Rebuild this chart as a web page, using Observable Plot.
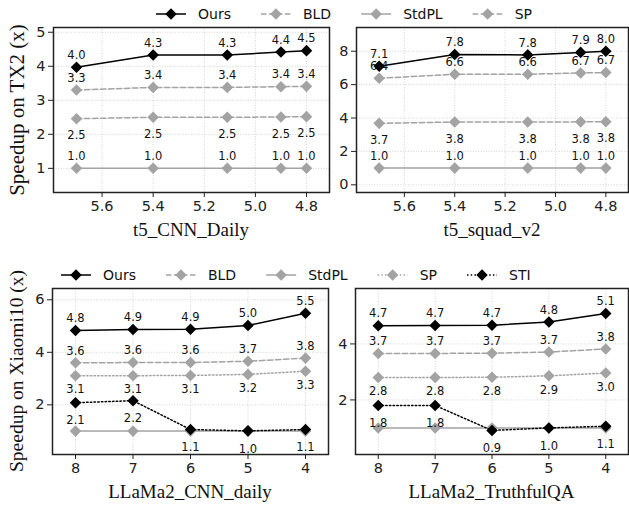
<!DOCTYPE html>
<html>
<head>
<meta charset="utf-8">
<script src="https://cdn.jsdelivr.net/npm/d3@7"></script>
<script src="https://cdn.jsdelivr.net/npm/@observablehq/plot@0.6"></script>
<style>
  body { margin: 0; background: #fff; }
  #root { position: relative; width: 629px; height: 508px; overflow: hidden; font-family: "DejaVu Sans", sans-serif; }
  .abs { position: absolute; }
  .ytitle { position: absolute; font-family: "Liberation Serif", serif; font-size: 19.5px; color: #111; white-space: nowrap; transform: translate(-50%, -50%) rotate(-90deg); }
  .xtitle { position: absolute; font-family: "Liberation Serif", serif; font-size: 19px; color: #111; white-space: nowrap; transform: translate(-50%, -50%); }
</style>
</head>
<body>
<div id="root"></div>
<script>
// ---------- data ----------
const topX = [5.7, 5.4, 5.11, 4.9, 4.8];
const botX = [8, 7, 6, 5, 4];
const topXTicks = [5.6, 5.4, 5.2, 5.0, 4.8];
const botXTicks = [8, 7, 6, 5, 4];

// TX2 - t5_CNN_Daily
const cnnOurs  = [3.97, 4.33, 4.33, 4.42, 4.46];
const cnnBLD   = [3.30, 3.38, 3.38, 3.40, 3.41];
const cnnStdPL = [1.0, 1.0, 1.0, 1.0, 1.0];
const cnnSP    = [2.46, 2.50, 2.50, 2.51, 2.52];
const cnnYTicks = [1, 2, 3, 4, 5];

// TX2 - t5_squad_v2
const squadOurs  = [7.10, 7.80, 7.78, 7.93, 8.00];
const squadBLD   = [6.38, 6.62, 6.62, 6.70, 6.72];
const squadStdPL = [1.0, 1.0, 1.0, 1.0, 1.0];
const squadSP    = [3.68, 3.76, 3.76, 3.77, 3.78];
const squadYTicks = [0, 2, 4, 6, 8];

// Xiaomi10 - LLaMa2_CNN_daily
const llCnnOurs  = [4.83, 4.87, 4.88, 5.02, 5.49];
const llCnnBLD   = [3.60, 3.61, 3.61, 3.66, 3.78];
const llCnnStdPL = [1.0, 1.0, 1.0, 1.0, 1.0];
const llCnnSP    = [3.11, 3.11, 3.12, 3.16, 3.28];
const llCnnSTI   = [2.08, 2.16, 1.06, 1.01, 1.06];
const llCnnYTicks = [2, 4, 6];

// Xiaomi10 - LLaMa2_TruthfulQA
const tqaOurs  = [4.65, 4.66, 4.67, 4.78, 5.09];
const tqaBLD   = [3.66, 3.66, 3.67, 3.71, 3.82];
const tqaStdPL = [1.0, 1.0, 1.0, 1.0, 1.0];
const tqaSP    = [2.80, 2.80, 2.81, 2.86, 2.96];
const tqaSTI   = [1.80, 1.80, 0.91, 1.00, 1.06];
const tqaYTicks = [2, 4];

const topLegend = ["Ours", "BLD", "StdPL", "SP"];
const botLegend = ["Ours", "BLD", "StdPL", "SP", "STI"];

// ---------- styles ----------
const GRAY = "#a3a3a3";
const DASH = "5.5,2.5";
const DOT = "1.5,2.2";
const topStyle = {
  Ours:  {stroke: "#000", dash: null, fill: "#000", dy: -12, label: true},
  BLD:   {stroke: GRAY, dash: DASH, fill: GRAY, dy: -12, label: true},
  StdPL: {stroke: GRAY, dash: null, fill: GRAY, dy: -12, label: true},
  SP:    {stroke: GRAY, dash: DASH, fill: GRAY, dy: 17, label: true}
};
const botStyle = {
  Ours:  {stroke: "#000", dash: null, fill: "#000", dy: -12, label: true},
  BLD:   {stroke: GRAY, dash: DASH, fill: GRAY, dy: -12, label: true},
  StdPL: {stroke: GRAY, dash: null, fill: GRAY, dy: -12, label: false},
  SP:    {stroke: GRAY, dash: DOT, fill: GRAY, dy: 14, label: true},
  STI:   {stroke: "#000", dash: DOT, fill: "#000", dy: 18, label: true}
};

const panels = [
  {left: 0, top: 0, width: 335, height: 245, mL: 53, mR: 6, mT: 27, mB: 53,
   xs: topX, xDomain: [5.79, 4.71], xTicks: topXTicks, xFmt: d3.format(".1f"),
   yDomain: [0.29, 5.14], yTicks: cnnYTicks, style: topStyle,
   series: {Ours: cnnOurs, BLD: cnnBLD, StdPL: cnnStdPL, SP: cnnSP},
   xTitle: "t5_CNN_Daily", yTitle: "Speedup on TX2 (x)", yTitleSize: 21},
  {left: 335, top: 0, width: 294, height: 245, mL: 21, mR: 1, mT: 27, mB: 53,
   xs: topX, xDomain: [5.79, 4.71], xTicks: topXTicks, xFmt: d3.format(".1f"),
   yDomain: [-0.46, 9.42], yTicks: squadYTicks, style: topStyle,
   series: {Ours: squadOurs, BLD: squadBLD, StdPL: squadStdPL, SP: squadSP},
   xTitle: "t5_squad_v2"},
  {left: 0, top: 250, width: 335, height: 258, mL: 52, mR: 7, mT: 38, mB: 54,
   xs: botX, xDomain: [8.4, 3.6], xTicks: botXTicks, xFmt: d3.format("d"),
   yDomain: [0.11, 6.43], yTicks: llCnnYTicks, style: botStyle,
   series: {Ours: llCnnOurs, BLD: llCnnBLD, StdPL: llCnnStdPL, SP: llCnnSP, STI: llCnnSTI},
   xTitle: "LLaMa2_CNN_daily", yTitle: "Speedup on Xiaomi10 (x)", yTitleSize: 19.5},
  {left: 335, top: 250, width: 294, height: 258, mL: 20, mR: 1, mT: 38, mB: 54,
   xs: botX, xDomain: [8.4, 3.6], xTicks: botXTicks, xFmt: d3.format("d"),
   yDomain: [0.05, 5.98], yTicks: tqaYTicks, style: botStyle,
   series: {Ours: tqaOurs, BLD: tqaBLD, StdPL: tqaStdPL, SP: tqaSP, STI: tqaSTI},
   xTitle: "LLaMa2_TruthfulQA"}
];

const root = document.getElementById("root");
const fmt1 = d3.format(".1f");

for (const p of panels) {
  const marks = [
    Plot.gridX(p.xTicks, {stroke: "#bbb", strokeOpacity: 0.8, strokeWidth: 0.8, strokeDasharray: "1,1.6"}),
    Plot.gridY(p.yTicks, {stroke: "#bbb", strokeOpacity: 0.8, strokeWidth: 0.8, strokeDasharray: "1,1.6"})
  ];
  const allRows = [];
  for (const [name, vals] of Object.entries(p.series)) {
    const st = p.style[name];
    const rows = vals.map((v, i) => ({x: p.xs[i], y: v, name}));
    marks.push(Plot.line(rows, {x: "x", y: "y", stroke: st.stroke, strokeWidth: 1.5,
      strokeDasharray: st.dash || undefined}));
    marks.push(Plot.dot(rows, {x: "x", y: "y", symbol: "diamond2", r: 5.2, fill: st.fill, stroke: "none"}));
    if (st.label) allRows.push(...rows.map(r => ({...r, dy: st.dy})));
  }
  const dys = [...new Set(allRows.map(r => r.dy))];
  for (const dy of dys) {
    marks.push(Plot.text(allRows.filter(r => r.dy === dy), {x: "x", y: "y", text: d => fmt1(d.y),
      dy, fontSize: 11.5, fill: "#111", fontFamily: "DejaVu Sans"}));
  }
  marks.push(Plot.frame({stroke: "#222", strokeWidth: 1.5}));
  marks.push(Plot.axisX({ticks: p.xTicks, tickFormat: p.xFmt, tickSize: 5, tickPadding: 3,
    fontSize: 14.5, label: null, stroke: "#222"}));
  marks.push(Plot.axisY({ticks: p.yTicks, tickFormat: d3.format("d"), tickSize: 5, tickPadding: 3,
    fontSize: 14.5, label: null, stroke: "#222"}));

  const chart = Plot.plot({
    width: p.width, height: p.height,
    marginLeft: p.mL, marginRight: p.mR, marginTop: p.mT, marginBottom: p.mB,
    x: {domain: p.xDomain, label: null},
    y: {domain: p.yDomain, label: null},
    style: {fontFamily: "DejaVu Sans", fontSize: "14.5px", color: "#222", background: "transparent", overflow: "visible"},
    marks
  });
  chart.classList.add("abs");
  chart.style.left = p.left + "px";
  chart.style.top = p.top + "px";
  root.appendChild(chart);

  const frameL = p.left + p.mL, frameR = p.left + p.width - p.mR;
  const frameT = p.top + p.mT, frameB = p.top + p.height - p.mB;
  const xt = document.createElement("div");
  xt.className = "xtitle";
  xt.textContent = p.xTitle;
  xt.style.left = ((frameL + frameR) / 2) + "px";
  xt.style.top = (frameB + 38) + "px";
  root.appendChild(xt);
  if (p.yTitle) {
    const yt = document.createElement("div");
    yt.className = "ytitle";
    yt.textContent = p.yTitle;
    yt.style.fontSize = p.yTitleSize + "px";
    yt.style.left = "17px";
    yt.style.top = ((frameT + frameB) / 2) + "px";
    root.appendChild(yt);
  }
}

// ---------- legends ----------
function drawLegend(names, styles, x0, yc) {
  const svg = d3.select(root).append("svg")
    .attr("class", "abs").attr("width", 629).attr("height", 28)
    .style("left", "0px").style("top", (yc - 14) + "px").style("overflow", "visible");
  let x = x0;
  const symbol = d3.symbol(d3.symbolDiamond2, 5.2 * 5.2 * Math.PI);
  for (const name of names) {
    const st = styles[name];
    svg.append("line").attr("x1", x).attr("x2", x + 30).attr("y1", 14).attr("y2", 14)
      .attr("stroke", st.stroke).attr("stroke-width", 1.5)
      .attr("stroke-dasharray", st.dash || null);
    svg.append("path").attr("d", symbol()).attr("transform", `translate(${x + 15},14)`).attr("fill", st.fill);
    const t = svg.append("text").attr("x", x + 42).attr("y", 14).attr("dy", "0.35em")
      .attr("font-family", "DejaVu Sans").attr("font-size", 14).attr("fill", "#111").text(name);
    x += 42 + t.node().getComputedTextLength() + 30;
  }
}
drawLegend(topLegend, topStyle, 156, 14);
drawLegend(botLegend, botStyle, 61, 275);
</script>
</body>
</html>
